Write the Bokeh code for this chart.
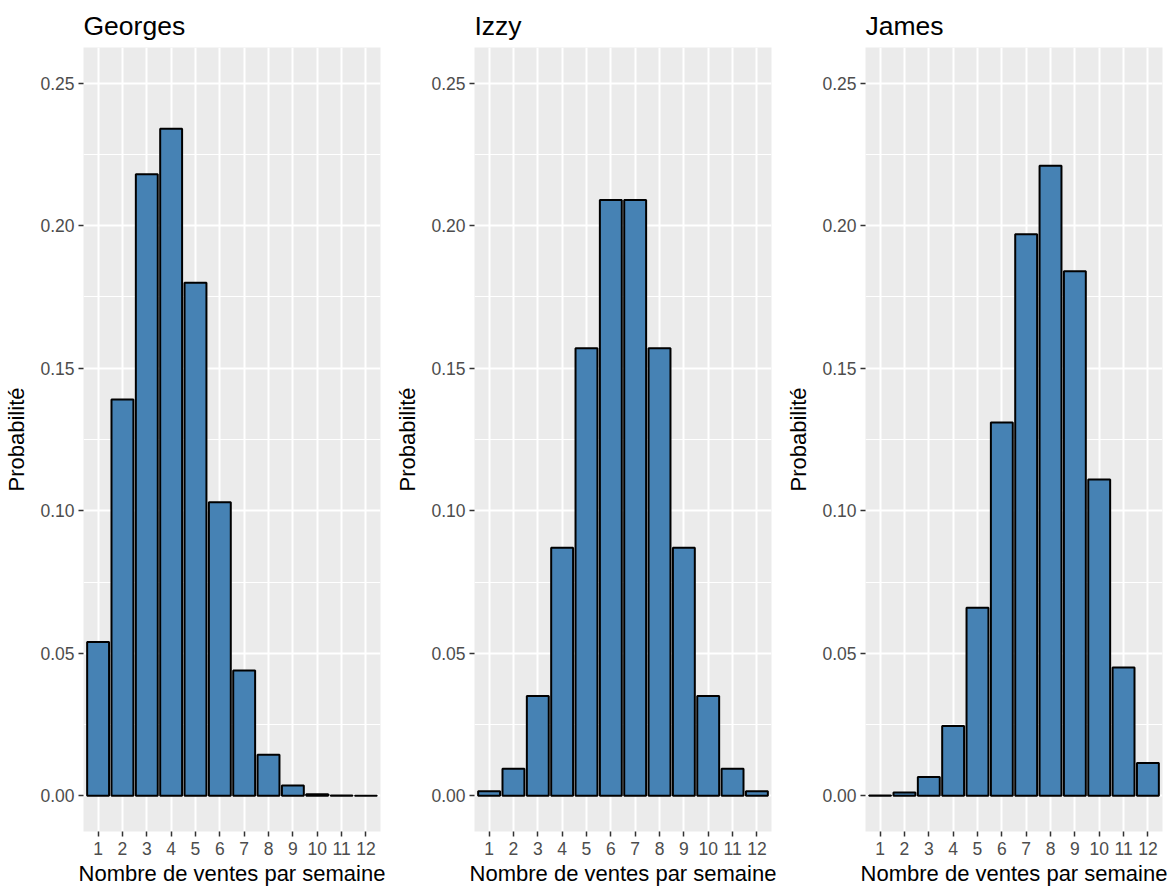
from bokeh.plotting import figure
from bokeh.layouts import row
from bokeh.models import Range1d, FixedTicker, ColumnDataSource, PrintfTickFormatter
from bokeh.embed import file_html
from bokeh.resources import INLINE

# ---- data ----
ventes = list(range(1, 13))
georges = [0.054, 0.139, 0.218, 0.234, 0.180, 0.103, 0.044, 0.0144, 0.0036, 0.0006, 0.0001, 0.00001]
izzy = [0.0016, 0.0095, 0.035, 0.087, 0.157, 0.209, 0.209, 0.157, 0.087, 0.035, 0.0095, 0.0016]
james = [0.0001, 0.0012, 0.0066, 0.0245, 0.066, 0.131, 0.197, 0.221, 0.184, 0.111, 0.045, 0.0115]
names = ["Georges", "Izzy", "James"]
series = [georges, izzy, james]
y_ticks = [0.0, 0.05, 0.10, 0.15, 0.20, 0.25]
y_minor = [0.025, 0.075, 0.125, 0.175, 0.225]
x_label = "Nombre de ventes par semaine"
y_label = "Probabilité"

FONT = "Liberation Sans"
widths = [391, 391, 392]

figs = []
for name, vals, w in zip(names, series, widths):
    p = figure(width=w, height=896, output_backend="svg", toolbar_location=None,
               x_range=Range1d(0.4, 12.6), y_range=Range1d(-0.0125, 0.2625),
               min_border_left=83, min_border_right=w - 83 - 297, min_border_top=47,
               min_border_bottom=65)
    p.background_fill_color = "#EBEBEB"
    p.border_fill_color = "white"
    p.outline_line_color = None

    src = ColumnDataSource(dict(x=ventes, top=vals))
    p.vbar(x="x", top="top", bottom=0, width=0.9, source=src,
           fill_color="#4682B4", line_color="black", line_width=2)

    # title
    p.title.text = name
    p.title.text_font = FONT
    p.title.text_font_size = "26.5px"
    p.title.text_font_style = "normal"
    p.title.text_color = "black"
    p.title.text_line_height = 0.85
    p.title.align = "left"
    p.title.offset = 0
    p.title.standoff = 14

    # x axis
    xa = p.xaxis[0]
    xa.ticker = FixedTicker(ticks=ventes)
    xa.axis_line_color = None
    xa.major_tick_line_color = "#333333"
    xa.major_tick_line_width = 1.5
    xa.major_tick_out = 5
    xa.major_tick_in = 0
    xa.minor_tick_line_color = None
    xa.major_label_text_font = FONT
    xa.major_label_text_font_size = "17.5px"
    xa.major_label_text_color = "#4D4D4D"
    xa.major_label_standoff = 5
    xa.axis_label = x_label
    xa.axis_label_text_font = FONT
    xa.axis_label_text_font_size = "22px"
    xa.axis_label_text_font_style = "normal"
    xa.axis_label_text_color = "black"
    xa.axis_label_standoff = 3

    # y axis
    ya = p.yaxis[0]
    ya.ticker = FixedTicker(ticks=y_ticks, minor_ticks=y_minor)
    ya.formatter = PrintfTickFormatter(format="%.2f")
    ya.axis_line_color = None
    ya.major_tick_line_color = "#333333"
    ya.major_tick_line_width = 1.5
    ya.major_tick_out = 5
    ya.major_tick_in = 0
    ya.minor_tick_line_color = None
    ya.major_label_text_font = FONT
    ya.major_label_text_font_size = "17.5px"
    ya.major_label_text_color = "#4D4D4D"
    ya.major_label_standoff = 4
    ya.axis_label = y_label
    ya.axis_label_text_font = FONT
    ya.axis_label_text_font_size = "22px"
    ya.axis_label_text_font_style = "normal"
    ya.axis_label_text_color = "black"
    ya.axis_label_standoff = 8

    # grids
    p.xgrid.grid_line_color = "white"
    p.xgrid.grid_line_width = 2
    p.ygrid.grid_line_color = "white"
    p.ygrid.grid_line_width = 2
    p.ygrid.minor_grid_line_color = "white"
    p.ygrid.minor_grid_line_width = 1
    p.xgrid.level = "underlay"
    p.ygrid.level = "underlay"

    figs.append(p)

layout = row(*figs)
open("out.html", "w").write(file_html(layout, INLINE))
